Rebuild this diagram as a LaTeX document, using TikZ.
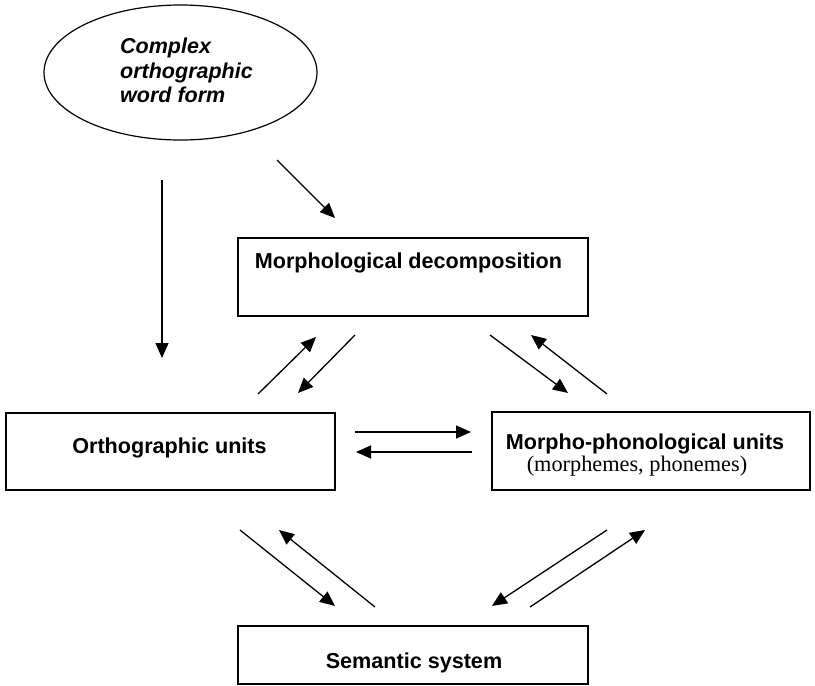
\documentclass[tikz,border=0pt]{standalone}
\usepackage{fontspec}
\setmainfont{Liberation Sans}
\newfontfamily\serifface{Liberation Serif}
\usetikzlibrary{arrows.meta,shapes.geometric}
\tikzset{
  box/.style={draw, line width=1.4pt, rectangle, inner sep=0pt},
  oval/.style={draw, line width=1.2pt, ellipse, inner sep=0pt},
  lbl/.style={inner sep=0pt, font=\fontsize{21.6}{26}\selectfont\bfseries},
  sublbl/.style={inner sep=0pt, font=\fontsize{22.3}{26}\selectfont\serifface},
  arr/.style={line width=1.3pt, -{Triangle[length=15pt,width=13pt]}},
}
\begin{document}
\begin{tikzpicture}[x=1pt,y=-1pt]
\useasboundingbox (0,0) rectangle (815,686);
% shapes
\node[oval, minimum width=273, minimum height=135] (cow) at (180.5,72.5) {};
\node[inner sep=0pt, anchor=north west, align=left,
      font=\fontsize{21.5}{24.5}\selectfont\bfseries\itshape] (cowtxt) at (120,38)
      {Complex\\orthographic\\word form};
\node[box, minimum width=350, minimum height=78] (decomp) at (413,277) {};
\node[lbl, anchor=base] (decomptxt) at (408.5,268) {Morphological decomposition};
\node[box, minimum width=329, minimum height=77] (ortho) at (170.5,451.5) {};
\node[lbl, anchor=base] (orthotxt) at (169.5,453) {Orthographic units};
\node[box, minimum width=318, minimum height=78] (mphon) at (651,451) {};
\node[lbl, anchor=base] (mphontxt) at (645,449) {Morpho-phonological units};
\node[sublbl, anchor=base] (mphonsub) at (637,471) {(morphemes, phonemes)};
\node[box, minimum width=350, minimum height=58] (sem) at (413,655) {};
\node[lbl, anchor=base] (semtxt) at (414,668) {Semantic system};
% arrow end points
\coordinate (a1s) at (162,180); \coordinate (a1e) at (162,358);
\coordinate (a2s) at (277,160); \coordinate (a2e) at (335,218);
\coordinate (a3s) at (258,394); \coordinate (a3e) at (316,337);
\coordinate (a4s) at (355,335); \coordinate (a4e) at (298,393);
\coordinate (a5s) at (490,335); \coordinate (a5e) at (568,393);
\coordinate (a6s) at (607,394); \coordinate (a6e) at (531,335);
\coordinate (a7s) at (355,432); \coordinate (a7e) at (471,432);
\coordinate (a8s) at (472,452); \coordinate (a8e) at (356,452);
\coordinate (a9s) at (240,530); \coordinate (a9e) at (335,606);
\coordinate (a10s) at (375,607); \coordinate (a10e) at (279,530);
\coordinate (a11s) at (607,530); \coordinate (a11e) at (492,606);
\coordinate (a12s) at (530,607); \coordinate (a12e) at (645,530);
\foreach \i in {1,...,12} {
  \draw[arr] (a\i s) -- (a\i e);
}
\end{tikzpicture}
\end{document}
